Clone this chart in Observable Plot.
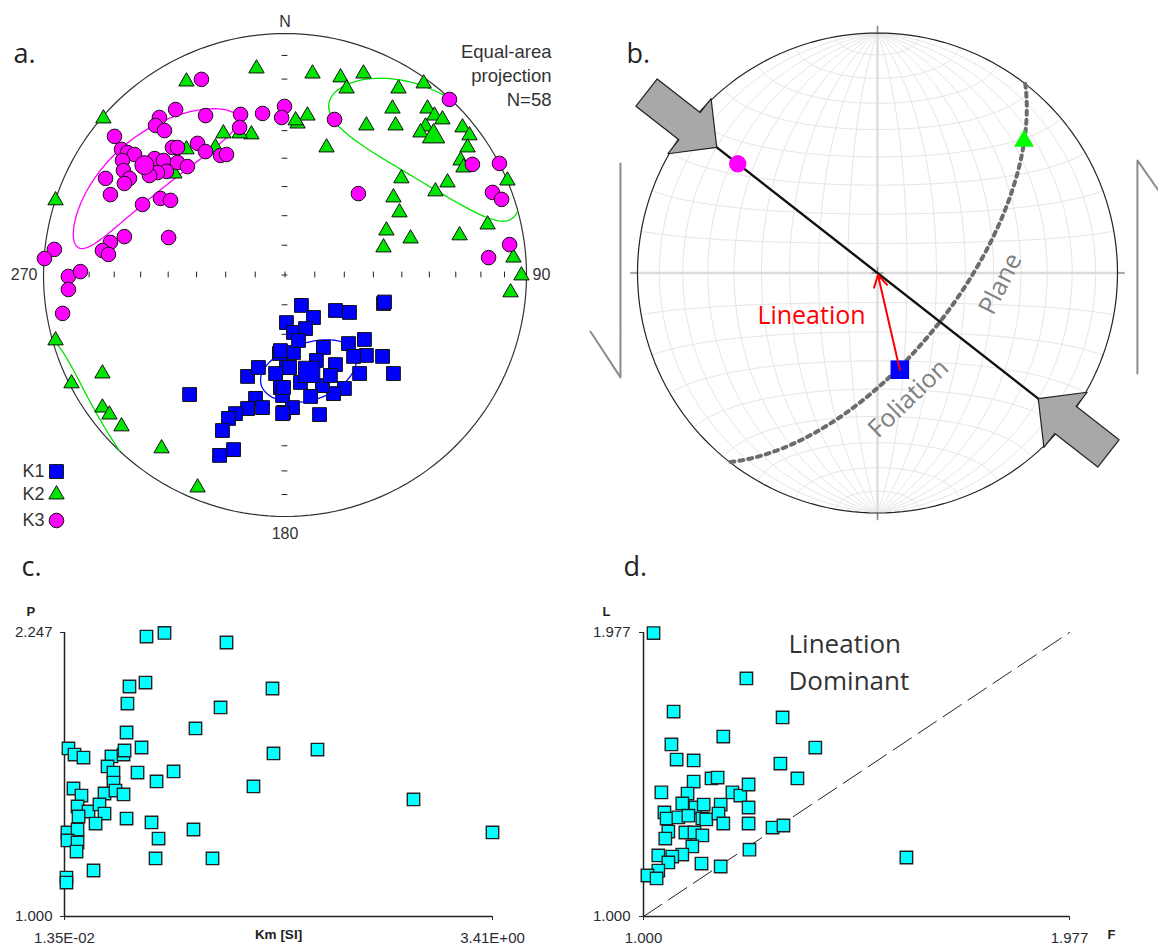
<!DOCTYPE html>
<html><head><meta charset="utf-8">
<script src="https://cdn.jsdelivr.net/npm/d3@7"></script>
<script src="https://cdn.jsdelivr.net/npm/@observablehq/plot@0.6"></script>
<style>
html,body{margin:0;padding:0;background:#fff;overflow:hidden}
#wrap{position:relative;width:1158px;height:947px;background:#fff}
.panel{position:absolute}
.panel svg{display:block;overflow:visible}
</style></head><body><div id="wrap">
<div class="panel" id="pa" style="left:0;top:0"></div>
<div class="panel" id="pb" style="left:580px;top:0"></div>
<div class="panel" id="pc" style="left:0;top:560px"></div>
<div class="panel" id="pd" style="left:580px;top:560px"></div>
</div>
<script>
// ================= DATA =================
// Panel a: equal-area projected positions (east, north) in units of the net radius
const K1 = [[-0.395,-0.495],[-0.155,-0.420],[-0.110,-0.383],[-0.023,-0.325],[0.006,-0.197],[0.006,-0.383],[-0.039,-0.408],[-0.019,-0.466],[-0.122,-0.511],[-0.155,-0.553],[-0.205,-0.574],[-0.234,-0.594],[-0.259,-0.644],[-0.213,-0.723],[-0.271,-0.747],[-0.093,-0.549],[-0.006,-0.569],[0.068,-0.126],[0.118,-0.176],[0.035,-0.238],[0.085,-0.222],[0.209,-0.147],[0.267,-0.155],[0.408,-0.118],[0.412,-0.112],[0.159,-0.300],[0.035,-0.321],[-0.019,-0.313],[0.263,-0.284],[0.329,-0.267],[0.337,-0.333],[0.404,-0.337],[0.284,-0.337],[0.209,-0.371],[0.019,-0.383],[0.309,-0.408],[0.449,-0.408],[0.246,-0.470],[0.201,-0.491],[0.155,-0.458],[0.106,-0.503],[0.031,-0.549],[0.143,-0.578],[-0.010,-0.499],[-0.010,-0.574],[-0.006,-0.466],[0.056,-0.271],[0.130,-0.354],[0.188,-0.416],[0.064,-0.445]];
const K2 = [[-0.118,0.855],[-0.408,0.801],[-0.752,0.648],[-0.255,0.586],[-0.139,0.582],[-0.188,0.586],[-0.408,0.520],[-0.288,0.528],[-0.458,0.420],[-0.950,0.309],[0.114,0.834],[0.230,0.818],[0.325,0.834],[0.255,0.772],[0.470,0.772],[0.574,0.793],[0.445,0.689],[0.458,0.619],[0.337,0.619],[0.093,0.660],[0.052,0.627],[0.044,0.640],[0.590,0.689],[0.619,0.660],[0.652,0.644],[0.582,0.615],[0.561,0.590],[0.735,0.611],[0.764,0.578],[0.756,0.528],[0.727,0.474],[0.739,0.445],[0.172,0.528],[0.921,0.391],[0.673,0.383],[0.623,0.346],[0.482,0.400],[0.449,0.321],[0.474,0.259],[0.420,0.184],[0.408,0.114],[0.520,0.151],[0.723,0.164],[0.839,0.209],[0.946,0.072],[0.979,-0.002],[0.934,-0.072],[-0.950,-0.271],[-0.884,-0.449],[-0.756,-0.408],[-0.756,-0.549],[-0.727,-0.578],[-0.677,-0.627],[-0.511,-0.718],[-0.362,-0.880]];
const K3 = [[-0.346,0.810],[-0.453,0.685],[-0.520,0.652],[-0.536,0.619],[-0.499,0.598],[-0.329,0.660],[-0.184,0.665],[-0.093,0.669],[-0.002,0.698],[-0.014,0.652],[-0.188,0.611],[-0.706,0.574],[-0.677,0.520],[-0.652,0.507],[-0.623,0.499],[-0.673,0.474],[-0.540,0.482],[-0.503,0.474],[-0.466,0.528],[-0.445,0.528],[-0.362,0.545],[-0.329,0.511],[-0.267,0.495],[-0.242,0.499],[-0.445,0.466],[-0.404,0.449],[-0.491,0.429],[-0.528,0.424],[-0.561,0.412],[-0.669,0.433],[-0.644,0.400],[-0.665,0.379],[-0.743,0.400],[-0.723,0.333],[-0.590,0.292],[-0.516,0.317],[-0.474,0.309],[-0.665,0.159],[-0.482,0.155],[-0.723,0.135],[-0.756,0.101],[-0.731,0.085],[-0.955,0.106],[-0.996,0.068],[-0.897,-0.006],[-0.847,0.014],[-0.897,-0.060],[-0.921,-0.159],[0.205,0.644],[0.681,0.727],[0.776,0.458],[0.888,0.462],[0.304,0.337],[0.859,0.342],[0.897,0.313],[0.930,0.126],[0.843,0.072]];
// mean principal directions (trend, plunge in degrees)
const meanNames   = ["K1","K2","K3"];
const meanTrends  = [166, 47, 308];
const meanPlunges = [56, 17, 27];
// confidence ellipses: semi-angles (deg), reference axes and rotation
const ellMajor = [16, 32, 31];
const ellMinor = [10, 17, 11];
const ellAxes  = [[1,2],[2,0],[1,0]];
const ellRot   = [-28, 0, 0];
const netTickPlunges = [90,80,70,60,50,40,30,20,10];
const dirLabels = ["N","90","180","270"];
const infoLines = ["Equal-area","projection","N=58"];

// Panel b: schematic
const bNames = ["K1","K2","K3"];
const bTrends = [167, 48, 308];
const bPlunges = [56, 19, 27];
const foliationDipDir = 128, foliationDip = 63;
const compressionTrend = 308;
const netStep = 10;

// Panel c: Km [SI] vs P
const km = [0.664,0.807,1.299,0.656,0.529,0.513,1.252,1.664,1.053,0.506,0.045,0.093,0.164,0.386,0.482,0.490,0.625,1.672,0.355,0.402,0.593,0.879,0.744,0.402,0.085,0.148,0.331,0.418,0.482,0.117,0.204,0.291,0.331,0.125,0.260,0.506,0.704,1.513,0.037,0.117,0.037,0.117,0.109,0.760,1.037,0.736,1.188,0.244,0.029,0.029,2.021,2.783,3.410];
const pVal = [2.229,2.245,2.203,2.027,2.010,1.935,1.918,2.001,1.826,1.808,1.738,1.711,1.698,1.703,1.711,1.729,1.742,1.716,1.659,1.632,1.632,1.637,1.593,1.588,1.562,1.531,1.540,1.553,1.536,1.483,1.461,1.492,1.452,1.439,1.408,1.430,1.413,1.571,1.369,1.382,1.334,1.325,1.285,1.342,1.382,1.255,1.255,1.202,1.171,1.149,1.733,1.514,1.369];
const kmDomain = [0.0135, 3.41];
const kmTickLabels = ["1.35E-02","3.41E+00"];
const pDomain = [1.000, 2.247];

// Panel d: F vs L
const fVal = [1.023,1.236,1.069,1.319,1.183,1.064,1.394,1.076,1.115,1.314,1.156,1.170,1.353,1.115,1.041,1.101,1.204,1.222,1.241,1.089,1.119,1.138,1.177,1.048,1.053,1.080,1.103,1.135,1.144,1.172,1.241,1.183,1.241,1.057,1.096,1.117,1.135,1.050,1.296,1.321,1.112,1.089,1.243,1.034,1.066,1.057,1.133,1.177,1.034,1.009,1.030,1.603];
const lVal = [1.975,1.819,1.705,1.685,1.619,1.592,1.581,1.540,1.537,1.526,1.475,1.478,1.475,1.464,1.427,1.423,1.427,1.416,1.454,1.389,1.375,1.385,1.385,1.358,1.337,1.341,1.347,1.337,1.334,1.354,1.375,1.320,1.320,1.292,1.289,1.289,1.279,1.268,1.306,1.313,1.241,1.213,1.230,1.210,1.206,1.186,1.182,1.172,1.158,1.141,1.131,1.203];
const flDomain = [1.000, 1.977];

// ================= GEOMETRY HELPERS =================
const R2D = Math.PI/180;
const vec = (t,p) => [Math.cos(p*R2D)*Math.sin(t*R2D), Math.cos(p*R2D)*Math.cos(t*R2D), Math.sin(p*R2D)];
const dot3 = (a,b) => a[0]*b[0]+a[1]*b[1]+a[2]*b[2];
const norm3 = a => {const l=Math.hypot(...a); return a.map(c=>c/l);};
function proj(v){ let [e,n,d]=v; if(d<0){e=-e;n=-n;d=-d;} const s=Math.sqrt(1+d); return [e/s, n/s]; }
function cone(m, P0, Q0, rot, a, b){
  const orth = u => {const k=dot3(u,m); return norm3(u.map((c,i)=>c-k*m[i]));};
  const P = orth(P0);
  let Q = orth(Q0); const kq = dot3(Q,P); Q = norm3(Q.map((c,i)=>c-kq*P[i]));
  const r = rot*R2D;
  const U = P.map((c,i)=>Math.cos(r)*c+Math.sin(r)*Q[i]);
  const V = P.map((c,i)=>-Math.sin(r)*c+Math.cos(r)*Q[i]);
  const ta=Math.tan(a*R2D), tb=Math.tan(b*R2D);
  const pts=[]; let seg=0, prev=null;
  for (let ang=0; ang<=360; ang+=2){
    const c=Math.cos(ang*R2D), s=Math.sin(ang*R2D);
    const w = norm3(m.map((x,i)=>x+ta*c*U[i]+tb*s*V[i]));
    const up = w[2] < 0;
    if (prev!==null && up!==prev) seg++;
    prev = up;
    const [x,y] = proj(w);
    pts.push({x,y,seg});
  }
  return pts;
}
const primitive = d3.range(0,361,2).map(t=>proj(vec(t,0)));

// ================= PANEL A =================
const colors = {K1:"#0000ff", K2:"#00e400", K3:"#ff00ff"};
const symbols = {K1:"square", K2:"triangle", K3:"circle"};
const meanVecs = meanNames.map((n,i)=>vec(meanTrends[i], meanPlunges[i]));
const meansXY = meanNames.map((n,i)=>{const [x,y]=proj(meanVecs[i]); return {name:n,x,y};});
const ellipses = meanNames.map((n,i)=>cone(meanVecs[i], meanVecs[ellAxes[i][0]], meanVecs[ellAxes[i][1]], ellRot[i], ellMajor[i], ellMinor[i]));
const tickR = p => Math.sqrt(1-Math.sin(p*R2D));
const axisTicks = netTickPlunges.flatMap(p => p===90 ? [0] : [tickR(p), -tickR(p)]);
const LS = "Liberation Sans, Arial, sans-serif";
const OS = "Open Sans, Noto Sans, sans-serif";
const fp = d=>d[0], sp = d=>d[1];

const legendY = [471, 494, 520];
const plotA = Plot.plot({
  width:580, height:560, margin:0,
  x:{domain:[-1,1], range:[43,526], axis:null},
  y:{domain:[-1,1], range:[516,33], axis:null},
  style:{fontFamily:LS, background:"transparent", overflow:"visible", color:"#333"},
  marks:[
    Plot.line(primitive, {x:fp, y:sp, stroke:"#333", strokeWidth:1.2}),
    Plot.ruleX(axisTicks, {x:d=>d, y1:()=>-0.012, y2:()=>0.012, stroke:"#222", strokeWidth:1}),
    Plot.ruleY(axisTicks, {y:d=>d, x1:()=>-0.012, x2:()=>0.012, stroke:"#222", strokeWidth:1}),
    ...ellipses.map((e,i)=>Plot.line(e, {x:"x", y:"y", z:"seg", stroke:colors[meanNames[i]], strokeWidth:1.3})),
    Plot.dot(K1, {x:fp, y:sp, symbol:"square", r:7.8, fill:colors.K1, stroke:"#111", strokeWidth:1}),
    Plot.dot(meansXY.filter(d=>d.name==="K1"), {x:"x", y:"y", symbol:"square", r:12, fill:colors.K1, stroke:"#111", strokeWidth:1}),
    Plot.dot(K2, {x:fp, y:sp, symbol:"triangle", r:5.7, fill:colors.K2, stroke:"#111", strokeWidth:1}),
    Plot.dot(meansXY.filter(d=>d.name==="K2"), {x:"x", y:"y", symbol:"triangle", r:8.3, fill:colors.K2, stroke:"#111", strokeWidth:1}),
    Plot.dot(K3, {x:fp, y:sp, symbol:"circle", r:7.3, fill:colors.K3, stroke:"#111", strokeWidth:1}),
    Plot.dot(meansXY.filter(d=>d.name==="K3"), {x:"x", y:"y", symbol:"circle", r:9.5, fill:colors.K3, stroke:"#111", strokeWidth:1}),
    Plot.text([dirLabels[0]], {x:()=>0, y:()=>1, dy:-12, fontSize:16, fill:"#333"}),
    Plot.text([dirLabels[1]], {x:()=>1, y:()=>0, dx:6, textAnchor:"start", fontSize:16, fill:"#333"}),
    Plot.text([dirLabels[2]], {x:()=>0, y:()=>-1, dy:17, fontSize:16, fill:"#333"}),
    Plot.text([dirLabels[3]], {x:()=>-1, y:()=>0, dx:-6, textAnchor:"end", fontSize:16, fill:"#333"}),
    ...infoLines.map((t,i)=>Plot.text([t], {frameAnchor:"top-left", dx:551, dy:57+24*i, textAnchor:"end", lineAnchor:"bottom", fontSize:18.5, fill:"#333"})),
    Plot.text(["a."], {frameAnchor:"top-left", dx:13, dy:62, textAnchor:"start", lineAnchor:"bottom", fontSize:27, fontFamily:OS, fill:"#222"}),
    ...meanNames.map((n,i)=>Plot.text([n], {frameAnchor:"top-left", dx:22, dy:legendY[i], textAnchor:"start", lineAnchor:"middle", fontSize:18, fill:"#333"})),
    ...meanNames.map((n,i)=>Plot.dot([n], {frameAnchor:"top-left", dx:56, dy:legendY[i], symbol:symbols[n], r:n==="K1"?7.8:n==="K2"?5.7:7.3, fill:colors[n], stroke:"#111", strokeWidth:1}))
  ]
});
document.getElementById("pa").appendChild(plotA);

// ================= PANEL B =================
const netLines=[]; let nid=0;
for (const a of d3.range(netStep, 90, netStep)) for (const sg of [1,-1]) { nid++;
  for (const f of d3.range(0,181,3)) { const ph=f*R2D, al=a*R2D;
    const [x,y]=proj([sg*Math.sin(ph)*Math.cos(al), Math.cos(ph), Math.sin(ph)*Math.sin(al)]); netLines.push({x,y,id:nid}); } }
for (const b of d3.range(netStep, 90, netStep)) for (const sg of [1,-1]) { nid++;
  for (const f of d3.range(0,181,3)) { const ps=f*R2D, be=b*R2D;
    const [x,y]=proj([Math.sin(be)*Math.cos(ps), sg*Math.cos(be), Math.sin(be)*Math.sin(ps)]); netLines.push({x,y,id:nid}); } }
const strikeV = vec(foliationDipDir-90, 0), dipV = vec(foliationDipDir, foliationDip);
const planePts = d3.range(0,181,2).map(f=>{const c=Math.cos(f*R2D), s=Math.sin(f*R2D); return proj(strikeV.map((v,i)=>c*v+s*dipV[i]));});
const cDir = [Math.sin(compressionTrend*R2D), Math.cos(compressionTrend*R2D)];
const tipR = 0.85;
const compLine = [[tipR*cDir[0], tipR*cDir[1]], [-tipR*cDir[0], -tipR*cDir[1]]];
// block-arrow outline: [distance outward from tip, offset across] in net radii
const arrowShape = [[0,0],[0.144,-0.146],[0.144,-0.072],[0.371,-0.072],[0.371,0.072],[0.144,0.072],[0.144,0.146],[0,0]];
const arrows = [1,-1].flatMap((sg,k)=>{const d=[sg*cDir[0], sg*cDir[1]], pr=[-d[1], d[0]];
  return arrowShape.map(([al,ac])=>({x:tipR*d[0]+al*d[0]+ac*pr[0], y:tipR*d[1]+al*d[1]+ac*pr[1], k}));});
const bPos = bNames.map((n,i)=>{const [x,y]=proj(vec(bTrends[i], bPlunges[i])); return {name:n,x,y};});
const shearLeft = [[-1.196,-0.244],[-1.071,-0.435],[-1.071,0.456]];
const shearRight = [[1.083,-0.419],[1.083,0.469],[1.25,0.231]];
const diam = [[-1.03,0,1.03,0],[0,-1.03,0,1.03]];
const endTicks = [[1,0,1.03,0],[-1,0,-1.03,0],[0,1,0,1.03],[0,-1,0,-1.03],[-0.025,0,0.025,0],[0,-0.025,0,0.025]];

const plotB = Plot.plot({
  width:578, height:560, margin:0,
  x:{domain:[-1,1], range:[57,537], axis:null},
  y:{domain:[-1,1], range:[512.5,32.5], axis:null},
  style:{fontFamily:OS, background:"transparent", overflow:"visible"},
  marks:[
    Plot.line(netLines, {x:"x", y:"y", z:"id", stroke:"#e6e6e6", strokeWidth:1}),
    Plot.link(diam, {x1:d=>d[0], y1:d=>d[1], x2:d=>d[2], y2:d=>d[3], stroke:"#dcdcdc", strokeWidth:2.5}),
    Plot.link(endTicks, {x1:d=>d[0], y1:d=>d[1], x2:d=>d[2], y2:d=>d[3], stroke:"#888", strokeWidth:1.2}),
    Plot.line(primitive, {x:fp, y:sp, stroke:"#222", strokeWidth:1.2}),
    Plot.line(shearLeft, {x:fp, y:sp, stroke:"#8c8c8c", strokeWidth:2}),
    Plot.line(shearRight, {x:fp, y:sp, stroke:"#8c8c8c", strokeWidth:2}),
    Plot.line(planePts, {x:fp, y:sp, stroke:"#6c6c6c", strokeWidth:4, strokeDasharray:"4,5"}),
    Plot.line(compLine, {x:fp, y:sp, stroke:"#111", strokeWidth:2.4}),
    Plot.line(arrows, {x:"x", y:"y", z:"k", fill:"#aaa7a7", stroke:"#222", strokeWidth:1.2}),
    Plot.dot(bPos.filter(d=>d.name==="K3"), {x:"x", y:"y", symbol:"circle", r:8.7, fill:"#ff00ff"}),
    Plot.dot(bPos.filter(d=>d.name==="K2"), {x:"x", y:"y", symbol:"triangle", r:7.4, fill:"#00ff00"}),
    Plot.dot(bPos.filter(d=>d.name==="K1"), {x:"x", y:"y", symbol:"square", r:10.5, fill:"#0000ff"}),
    Plot.arrow(bPos.filter(d=>d.name==="K1"), {x1:"x", y1:"y", x2:()=>0, y2:()=>0, stroke:"#ff0000", strokeWidth:2, headLength:10, insetEnd:2}),
    Plot.text(["Lineation"], {x:()=>-0.275, y:()=>-0.181, fontSize:25, fill:"#ff0000"}),
    Plot.text(["Plane"], {x:()=>0.5125, y:()=>-0.045, rotate:-63, fontSize:25, fill:"#808080"}),
    Plot.text(["Foliation"], {x:()=>0.129, y:()=>-0.523, rotate:-44, fontSize:25, fill:"#808080"}),
    Plot.text(["b."], {frameAnchor:"top-left", dx:46, dy:62, textAnchor:"start", lineAnchor:"bottom", fontSize:27, fill:"#222"})
  ]
});
document.getElementById("pb").appendChild(plotB);

// ================= PANEL C =================
const cData = km.map((k,i)=>({km:k, p:pVal[i]}));
const plotC = Plot.plot({
  width:580, height:387, marginLeft:64, marginTop:72, marginRight:88, marginBottom:31,
  x:{domain:kmDomain, axis:null}, y:{domain:pDomain, axis:null},
  style:{fontFamily:LS, background:"transparent", overflow:"visible", color:"#2b2b33"},
  marks:[
    Plot.ruleX([kmDomain[0]], {stroke:"#222", strokeWidth:1.5}),
    Plot.ruleY([pDomain[0]], {stroke:"#222", strokeWidth:1.5}),
    Plot.axisY({ticks:pDomain, tickFormat:d=>d.toFixed(3), tickSize:4, tickPadding:8, fontSize:15, label:null}),
    Plot.axisX({ticks:kmDomain, tickFormat:(d,i)=>kmTickLabels[i], tickSize:4, tickPadding:12, fontSize:15, label:null}),
    Plot.dot(cData, {x:"km", y:"p", symbol:"square", r:7, fill:"#00ffff", stroke:"#222", strokeWidth:1.4}),
    Plot.text(["P"], {frameAnchor:"top-left", dx:-38, dy:-26, fontSize:13, fontWeight:"bold", fill:"#222"}),
    Plot.text(["Km [SI]"], {frameAnchor:"bottom", dy:22, fontSize:13.5, fontWeight:"bold", fill:"#222"}),
    Plot.text(["c."], {frameAnchor:"top-left", dx:-43, dy:-57, textAnchor:"start", lineAnchor:"bottom", fontSize:27, fontFamily:OS, fill:"#222"})
  ]
});
document.getElementById("pc").appendChild(plotC);

// ================= PANEL D =================
const dData = fVal.map((f,i)=>({f, l:lVal[i]}));
const plotD = Plot.plot({
  width:578, height:387, marginLeft:63, marginTop:72, marginRight:89, marginBottom:31,
  x:{domain:flDomain, axis:null}, y:{domain:flDomain, axis:null},
  style:{fontFamily:LS, background:"transparent", overflow:"visible", color:"#2b2b33"},
  marks:[
    Plot.line([flDomain[0], flDomain[1]], {x:d=>d, y:d=>d, stroke:"#222", strokeWidth:1, strokeDasharray:"22,8"}),
    Plot.ruleX([flDomain[0]], {stroke:"#222", strokeWidth:1.5}),
    Plot.ruleY([flDomain[0]], {stroke:"#222", strokeWidth:1.5}),
    Plot.axisY({ticks:flDomain, tickFormat:d=>d.toFixed(3), tickSize:4, tickPadding:9, fontSize:15, label:null}),
    Plot.axisX({ticks:flDomain, tickFormat:d=>d.toFixed(3), tickSize:4, tickPadding:12, fontSize:15, label:null}),
    Plot.dot(dData, {x:"f", y:"l", symbol:"square", r:7, fill:"#00ffff", stroke:"#222", strokeWidth:1.4}),
    Plot.text(["Lineation"], {frameAnchor:"top-left", dx:145, dy:20, textAnchor:"start", lineAnchor:"bottom", fontSize:26, fontFamily:OS, fill:"#333"}),
    Plot.text(["Dominant"], {frameAnchor:"top-left", dx:145, dy:57, textAnchor:"start", lineAnchor:"bottom", fontSize:26, fontFamily:OS, fill:"#333"}),
    Plot.text(["L"], {frameAnchor:"top-left", dx:-41, dy:-26, fontSize:13, fontWeight:"bold", fill:"#222"}),
    Plot.text(["F"], {frameAnchor:"bottom-right", dx:46, dy:22, fontSize:13, fontWeight:"bold", fill:"#222"}),
    Plot.text(["d."], {frameAnchor:"top-left", dx:-20, dy:-57, textAnchor:"start", lineAnchor:"bottom", fontSize:27, fontFamily:OS, fill:"#222"})
  ]
});
document.getElementById("pd").appendChild(plotD);
</script></body></html>
